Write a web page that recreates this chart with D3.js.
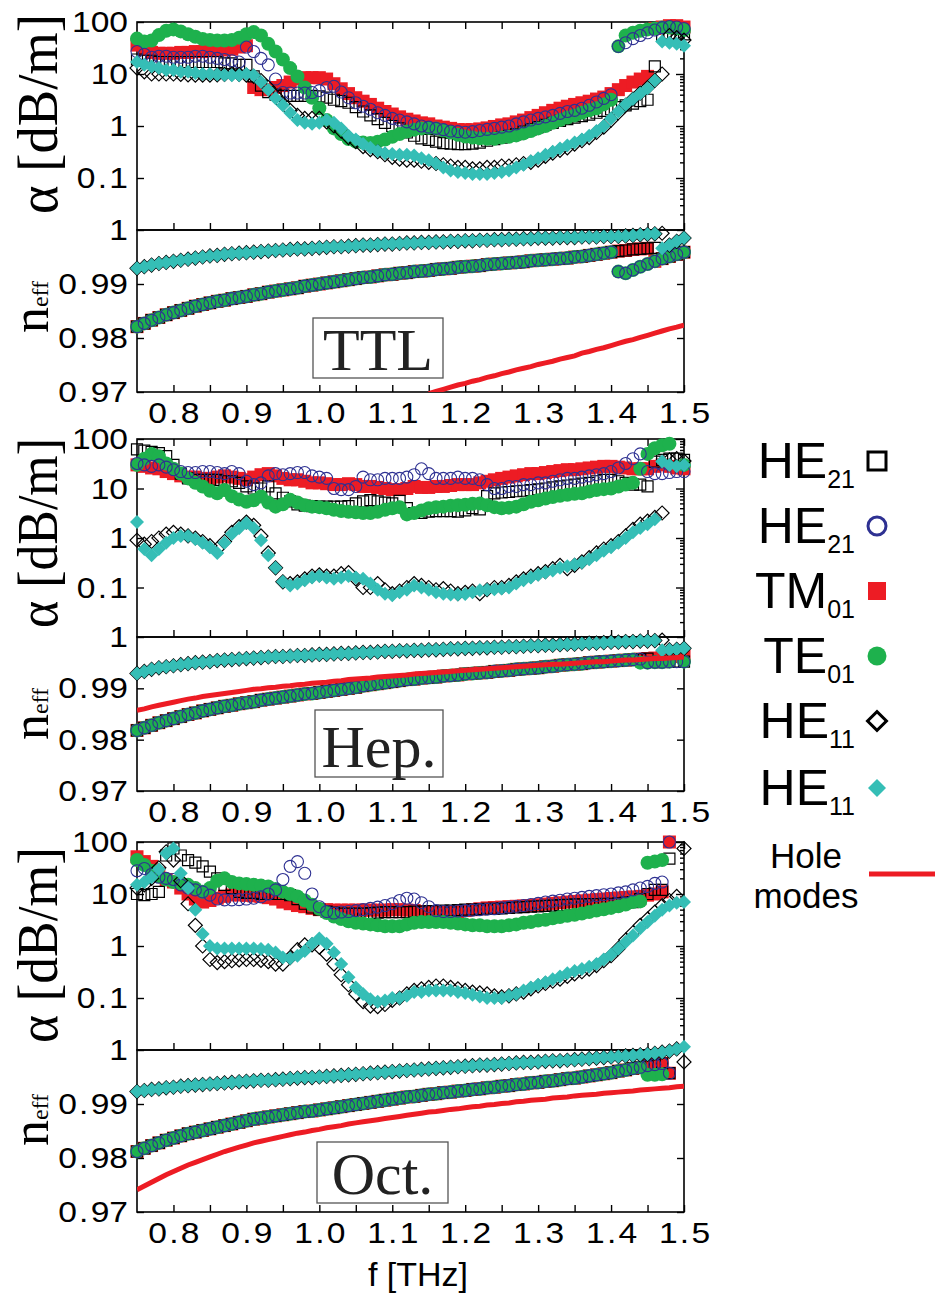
<!DOCTYPE html>
<html>
<head>
<meta charset="utf-8">
<script src="https://cdn.jsdelivr.net/npm/d3@7"></script>
<style>
  body { margin: 0; background: #fff; }
  svg { display: block; }
  text { font-family: "Liberation Sans", Arial, sans-serif; }
  .serif { font-family: "Liberation Serif", "Times New Roman", serif; }
</style>
</head>
<body>
<svg id="chart" width="935" height="1298"></svg>
<script>
// frequency grid of the simulated points [THz]
const freq = [0.75,0.76,0.77,0.78,0.79,0.80,0.81,0.82,0.83,0.84,
  0.85,0.86,0.87,0.88,0.89,0.90,0.91,0.92,0.93,0.94,
  0.95,0.96,0.97,0.98,0.99,1.00,1.01,1.02,1.03,1.04,
  1.05,1.06,1.07,1.08,1.09,1.10,1.11,1.12,1.13,1.14,
  1.15,1.16,1.17,1.18,1.19,1.20,1.21,1.22,1.23,1.24,
  1.25,1.26,1.27,1.28,1.29,1.30,1.31,1.32,1.33,1.34,
  1.35,1.36,1.37,1.38,1.39,1.40,1.41,1.42,1.43,1.44,
  1.45,1.46,1.47,1.48,1.49,1.50];

const fTicks = [0.8,0.85,0.9,0.95,1.0,1.05,1.1,1.15,1.2,1.25,1.3,1.35,1.4,1.45,1.5];
const fLabels = [0.8,0.9,1.0,1.1,1.2,1.3,1.4,1.5];
const alphaTicks = [100, 10, 1, 0.1];
const neffTicks = [0.97, 0.98, 0.99, 1];

// legend order: HE21 (square), HE21 (circle), TM01, TE01, HE11 (open diamond), HE11 (filled diamond)
const modeNames = [["HE","21"],["HE","21"],["TM","01"],["TE","01"],["HE","11"],["HE","11"]];

// ---------- TTL : loss alpha [dB/m] ----------
const ttlAlphaHE21s = [19,18,18,17,17,17,17,17,17,17,
  17,17,16,16,15,15,9,6,4.5,4,
  3.8,3.8,3.8,3.8,3.8,3.7,3.5,3.2,3.0,2.8,
  2.3,1.9,1.6,1.35,1.15,1.0,0.9,0.75,0.65,0.58,
  0.54,0.5,0.47,0.46,0.45,0.45,0.46,0.48,0.52,0.56,
  0.6,0.65,0.7,0.78,0.86,0.95,1.05,1.15,1.25,1.35,
  1.45,1.55,1.65,1.8,1.95,2.1,2.3,2.5,2.7,3.0,
  3.2,14,55,60,60,58];
const ttlAlphaHE21c = [27,24,21,22,22,21,21,21,22,22,
  21,20,19,18,17,33,27,20,15,8,
  4.4,4.3,4.3,4.3,4.4,4.8,5.5,5.8,4.5,3.5,
  2.8,2.4,2.1,1.8,1.6,1.4,1.3,1.2,1.1,1.0,
  0.95,0.9,0.85,0.8,0.78,0.76,0.78,0.82,0.86,0.9,
  0.95,1.0,1.1,1.2,1.3,1.4,1.5,1.6,1.75,1.9,
  2.0,2.2,2.5,2.9,3.4,4.0,34,40,48,55,
  62,70,78,82,80,75];
const ttlAlphaTM01 = [36,30,26,25,25,25,26,26,27,27,
  28,28,29,30,33,35,5.5,5,5,5.5,
  6,7,8,8.5,8.5,8.5,8,6.5,5.2,4.2,
  3.5,3.0,2.6,2.2,1.9,1.7,1.5,1.35,1.25,1.15,
  1.1,1.0,0.95,0.9,0.85,0.85,0.85,0.88,0.92,0.98,
  1.05,1.1,1.2,1.3,1.45,1.6,1.8,2.0,2.2,2.4,
  2.6,2.8,3.0,3.3,3.6,4.2,5,6,7,8,
  9,75,80,85,85,80];
const ttlAlphaTE01 = [48,42,44,56,68,72,66,58,52,47,
  45,44,44,45,50,58,64,55,38,27,
  19,13,9,5.5,3.5,2.2,1.3,0.9,0.7,0.56,
  0.5,0.48,0.47,0.5,0.55,0.62,0.7,0.78,0.85,0.9,
  0.92,0.9,0.82,0.75,0.68,0.63,0.6,0.58,0.57,0.57,
  0.6,0.62,0.66,0.72,0.8,0.9,1.0,1.15,1.3,1.45,
  1.6,1.8,2.0,2.2,2.6,3.2,34,55,62,68,
  72,75,78,78,75,70];
const ttlAlphaHE11d = [13,11,10,10,10,10,9.8,9.6,9.5,9.5,
  9.5,9.6,9.8,10,9.8,9.5,9,7.5,5.5,3.8,
  2.7,2.0,1.6,1.4,1.4,1.4,1.2,1.0,0.8,0.6,
  0.5,0.4,0.35,0.32,0.28,0.25,0.23,0.22,0.22,0.21,
  0.2,0.19,0.18,0.17,0.16,0.16,0.15,0.15,0.16,0.16,
  0.17,0.17,0.18,0.19,0.2,0.22,0.26,0.3,0.34,0.38,
  0.45,0.52,0.6,0.75,0.95,1.3,1.8,2.5,3.3,4.3,
  5.5,7.5,10,55,50,45];
const ttlAlphaHE11t = [17,15,14,13,12,12,11,11,10.5,10,
  10,9.8,9.6,9.5,9.5,10,9.5,7,5,3.4,
  2.5,1.8,1.3,1.15,1.1,1.15,1.3,1.15,0.9,0.65,
  0.55,0.45,0.38,0.33,0.3,0.29,0.28,0.28,0.27,0.24,
  0.22,0.19,0.16,0.14,0.13,0.125,0.12,0.12,0.12,0.125,
  0.13,0.14,0.16,0.18,0.21,0.24,0.28,0.32,0.37,0.42,
  0.48,0.55,0.65,0.8,1.0,1.4,1.9,2.6,3.3,4.2,
  5.3,7.5,42,40,38,35];

// ---------- TTL : effective index ----------
const ttlNeffHigher = [0.9821,0.9827,0.9833,0.9838,0.9843,0.9847,0.9851,0.9855,0.9859,0.9862,
  0.9865,0.9868,0.9870,0.9873,0.9875,0.9877,0.9880,0.9882,0.9885,0.9887,
  0.9889,0.9891,0.9893,0.9896,0.9898,0.9900,0.9902,0.9904,0.9906,0.9908,
  0.9910,0.9912,0.9913,0.9915,0.9917,0.9918,0.9920,0.9921,0.9923,0.9924,
  0.9925,0.9927,0.9928,0.9929,0.9931,0.9932,0.9933,0.9934,0.9936,0.9937,
  0.9938,0.9939,0.9940,0.9941,0.9943,0.9944,0.9945,0.9946,0.9947,0.9948,
  0.9950,0.9951,0.9953,0.9955,0.9957,0.9959,0.9961,0.9962,0.9964,0.9965,
  0.9966,0.9967];
const ttlNeffHigherHi = [0.9923,0.9920,0.9926,0.9932,0.9937,0.9942,0.9947,0.9951,0.9955,0.9959];
const ttlNeffFund = [0.9929,0.9932,0.9935,0.9938,0.9940,0.9942,0.9944,0.9946,0.9948,0.9950,
  0.9952,0.9953,0.9955,0.9956,0.9957,0.9958,0.9959,0.9960,0.9961,0.9962,
  0.9963,0.9964,0.9965,0.9965,0.9966,0.9967,0.9968,0.9969,0.9969,0.9970,
  0.9971,0.9972,0.9972,0.9973,0.9974,0.9974,0.9975,0.9976,0.9976,0.9977,
  0.9977,0.9978,0.9978,0.9979,0.9979,0.9980,0.9980,0.9981,0.9981,0.9982,
  0.9982,0.9983,0.9983,0.9984,0.9984,0.9985,0.9985,0.9985,0.9986,0.9986,
  0.9986,0.9987,0.9987,0.9987,0.9988,0.9988,0.9988,0.9989,0.9990,0.9991,
  0.9992,0.9993,0.9994];
const ttlNeffFundHi = [0.9966,0.9972,0.9979,0.9985];
const ttlHole = [0.9697,0.9701,0.9705,0.9709,0.9713,0.9716,0.9720,0.9723,0.9727,0.9730,
  0.9734,0.9737,0.9741,0.9744,0.9747,0.9751,0.9754,0.9757,0.9761,0.9764,
  0.9767,0.9772,0.9775,0.9779,0.9782,0.9786,0.9790,0.9794,0.9797,0.9801,
  0.9805,0.9809,0.9813,0.9817,0.9820,0.9824];
const ttlSwitch = [1.47, 1.41, 1.46, 1.41, 1.48, 1.47];

// ---------- Hep. : loss alpha [dB/m] ----------
const hepAlphaHE21s = [62,58,55,52,45,30,20,16,15,15,
  15,15,14,14,13,11,10,10,11,8,
  6.5,5.5,4.8,4.5,4.4,4.3,4.3,4.3,4.3,4.4,
  5.0,5.5,5.8,5.5,5.2,5.0,5.6,4.0,3.2,3.2,
  3.4,3.5,3.5,3.5,3.4,3.6,4.0,3.8,7.0,8.0,
  8.3,8.5,8.8,9.0,9.3,9.6,10,10.5,11,11.5,
  12,12.5,13,14,15,15,14,13,12,12,
  11,35,38,40,40,38];
const hepAlphaHE21c = [32,30,28,30,27,24,22,21,21,22,
  22,21,20,22,20,14,12,13,18,20,
  19,20,21,21,18,17,16,10,9.5,9.5,
  11,17,15,15,16,16,16,17,19,25,
  20,16,16,16,17,16,16,15,12,10,
  10,11,11,12,12,13,13,14,15,16,
  16,17,18,19,20,22,26,32,40,50,
  22,20,20,21,22,22];
const hepAlphaTM01 = [30,28,26,25,22,20,18,17,17,16,
  16,17,18,17,16,15,17,19,20,18,
  16,15,15,14,13,13,12.5,12,12,12.5,
  12,11,11,10.5,10,9.5,9.5,10,11,10.5,
  10.5,11,11,11.5,12,12,12,13,14,15,
  16,17,18,19,20,20,21,22,23,24,
  24,25,26,27,28,28,27,26,25,25,
  25,28,30,28,26,25];
const hepAlphaTE01 = [30,40,50,45,32,25,20,16,13,11,
  9,8,9.3,7,6,5.4,5.8,6.9,5.2,4.3,
  4.8,5.9,5.2,4.6,4.3,4.2,4.0,3.7,3.5,3.4,
  3.3,3.2,3.2,3.4,3.7,4.0,4.2,3.0,3.2,3.6,
  4.0,4.2,4.3,4.5,4.6,4.7,4.9,5.0,4.6,4.2,
  4.0,4.1,4.3,4.8,5.4,5.8,6.3,6.7,7.1,7.5,
  7.8,8.0,8.7,9.3,9.7,10,11,12,13,25,
  50,65,75,80,null,30];
const hepAlphaHE11d = [0.9,0.75,0.85,1.0,1.2,1.3,1.2,1.1,1.0,0.85,
  0.7,0.6,0.85,1.3,1.7,2.1,1.8,1.1,0.5,0.25,
  0.13,0.12,0.13,0.15,0.17,0.18,0.17,0.17,0.19,0.2,
  0.15,0.1,0.1,0.12,0.09,0.075,0.085,0.1,0.12,0.11,
  0.1,0.09,0.095,0.085,0.075,0.08,0.085,0.075,0.09,0.1,
  0.1,0.11,0.13,0.15,0.17,0.19,0.21,0.24,0.28,0.24,
  0.28,0.33,0.4,0.5,0.6,0.7,0.85,1.1,1.5,1.9,
  2.2,2.6,3.2,38,40,36];
const hepAlphaHE11t = [2.1,0.6,0.45,0.6,0.8,1.0,1.1,1.1,0.95,0.8,
  0.65,0.5,0.8,1.2,1.6,2.0,1.6,0.9,0.45,0.25,
  0.13,0.11,0.12,0.14,0.16,0.17,0.16,0.15,0.16,0.17,
  0.16,0.15,0.12,0.09,0.075,0.07,0.08,0.09,0.11,0.1,
  0.09,0.08,0.075,0.072,0.072,0.074,0.08,0.088,0.09,0.092,
  0.095,0.1,0.12,0.14,0.16,0.18,0.2,0.22,0.25,0.27,
  0.29,0.32,0.37,0.45,0.55,0.65,0.8,1.0,1.3,1.6,
  1.9,2.4,35,30,28,30];

// ---------- Hep. : effective index ----------
const hepNeffHigher = [0.9818,0.9823,0.9828,0.9833,0.9837,0.9841,0.9845,0.9849,0.9852,0.9856,
  0.9859,0.9862,0.9865,0.9867,0.9870,0.9872,0.9874,0.9877,0.9879,0.9881,
  0.9883,0.9885,0.9887,0.9889,0.9890,0.9892,0.9894,0.9896,0.9898,0.9900,
  0.9902,0.9905,0.9907,0.9909,0.9911,0.9913,0.9915,0.9917,0.9918,0.9920,
  0.9921,0.9922,0.9924,0.9925,0.9926,0.9928,0.9929,0.9930,0.9931,0.9933,
  0.9934,0.9935,0.9937,0.9938,0.9939,0.9940,0.9942,0.9943,0.9945,0.9946,
  0.9947,0.9948,0.9950,0.9951,0.9952,0.9953,0.9954,0.9955,0.9956,0.9957,
  0.9958,0.9959,0.9960,0.9961,0.9962,0.9963];
const hepNeffHigherHi = [0.9950,0.9950,0.9951,0.9951,0.9952,0.9952,0.9952];
const hepNeffFund = [0.9929,0.9933,0.9937,0.9940,0.9942,0.9944,0.9946,0.9948,0.9950,0.9951,
  0.9952,0.9954,0.9955,0.9956,0.9957,0.9958,0.9959,0.9960,0.9961,0.9962,
  0.9962,0.9963,0.9964,0.9964,0.9965,0.9966,0.9966,0.9967,0.9968,0.9968,
  0.9969,0.9970,0.9970,0.9971,0.9972,0.9972,0.9973,0.9973,0.9974,0.9974,
  0.9975,0.9975,0.9976,0.9977,0.9977,0.9978,0.9978,0.9979,0.9979,0.9980,
  0.9980,0.9981,0.9981,0.9982,0.9983,0.9983,0.9984,0.9984,0.9985,0.9986,
  0.9986,0.9987,0.9988,0.9988,0.9989,0.9990,0.9990,0.9991,0.9991,0.9992,
  0.9992,0.9993,0.9994];
const hepNeffFundHi = [0.9974,0.9975,0.9976,0.9978];
const hepHole = [0.9857,0.9860,0.9864,0.9867,0.9870,0.9873,0.9876,0.9879,0.9881,0.9884,
  0.9886,0.9888,0.9890,0.9892,0.9894,0.9896,0.9898,0.9899,0.9901,0.9902,
  0.9904,0.9905,0.9907,0.9908,0.9910,0.9911,0.9912,0.9914,0.9915,0.9917,
  0.9918,0.9919,0.9920,0.9922,0.9923,0.9924,0.9925,0.9926,0.9928,0.9929,
  0.9930,0.9931,0.9932,0.9933,0.9934,0.9935,0.9936,0.9937,0.9938,0.9939,
  0.9940,0.9941,0.9942,0.9943,0.9944,0.9945,0.9946,0.9947,0.9947,0.9948,
  0.9949,0.9950,0.9951,0.9952,0.9952,0.9953,0.9954,0.9955,0.9955,0.9956,
  0.9957,0.9958,0.9958,0.9959,0.9960,0.9961];
const hepSwitch = [1.46, 1.45, null, 1.44, 1.48, 1.47];

// ---------- Oct. : loss alpha [dB/m] ----------
const octAlphaHE21s = [10,9.5,10,11,55,75,55,45,40,34,
  27,20,15,13,11,10.5,10.5,10,10,10,
  10,9.5,8,6.5,5.5,5,4.6,4.4,4.2,4.2,
  4.2,4.2,4.3,4.4,4.5,4.5,4.5,4.5,4.6,4.6,
  4.7,4.7,4.8,4.8,4.9,5.0,5.0,5.1,5.2,5.2,
  5.3,5.4,5.5,5.6,5.7,5.8,5.9,6.0,6.1,6.2,
  6.3,6.3,6.4,6.4,6.5,6.5,6.6,6.8,7,8,
  10,12,12,48,null,null];
const octAlphaHE21c = [28,31,24,21,20,19,15,13,12,11,
  9.5,8,7.7,7.7,7.8,8,8.3,8.8,10,12,
  19,34,42,25,10,5.7,4.6,4.3,4.5,4.6,
  4.8,5.0,5.3,5.6,6.0,6.5,7.5,8.3,8.0,6.8,
  5.7,4.8,4.6,4.6,4.7,4.8,4.9,5.0,5.1,5.2,
  5.4,5.6,5.8,6.0,6.3,6.6,7.0,7.3,7.6,8.0,
  8.3,8.6,9.0,9.3,9.7,10,10.5,11,12,13,
  14,16,17,100,null,null];
const octAlphaTM01 = [52,42,34,25,19,17,13,10,8,7,
  7.5,8.3,9,9.6,9.6,9.4,9.2,9,8.5,8,
  7,6.5,6,5.7,5.3,5,5,4.9,4.9,4.9,
  4.9,4.9,4.9,4.9,4.9,5.0,5.0,4.9,4.8,4.6,
  4.5,4.4,4.4,4.5,4.6,4.8,5.0,5.2,5.4,5.5,
  5.6,5.7,5.8,5.9,6.0,6.2,6.4,6.6,6.8,7.0,
  7.2,7.4,7.6,7.8,8.0,8.2,8.4,8.6,8.8,9,
  9.5,10,11,100,null,null];
const octAlphaTE01 = [45,36,28,22,19,17,16,15,13,11,
  13,18,20,17,16,15.5,15,14.5,14,12.5,
  11,10,9,7.5,6.2,5.2,4.3,3.7,3.3,3.0,
  2.8,2.7,2.6,2.5,2.4,2.4,2.4,2.6,2.8,2.9,
  2.9,2.9,2.9,2.8,2.7,2.6,2.5,2.5,2.4,2.4,
  2.4,2.5,2.6,2.8,2.9,3.1,3.2,3.4,3.6,3.8,
  4.0,4.2,4.5,4.8,5.1,5.4,5.8,6.3,7.0,7.2,
  40,42,45,null,null,null];
const octAlphaHE11d = [13,15,20,32,65,45,18,6.5,2.5,1.0,
  0.55,0.48,0.5,0.52,0.54,0.55,0.55,0.53,0.5,0.45,
  0.45,0.6,0.85,1.05,1.05,0.95,0.7,0.45,0.28,0.18,
  0.12,0.085,0.07,0.068,0.075,0.09,0.1,0.12,0.14,0.15,
  0.16,0.17,0.17,0.16,0.15,0.14,0.13,0.125,0.12,0.11,
  0.105,0.11,0.12,0.13,0.15,0.17,0.19,0.21,0.23,0.26,
  0.29,0.32,0.36,0.42,0.52,0.65,0.9,1.3,1.8,2.5,
  3.3,4.5,6.0,7.5,9,75];
const octAlphaHE11t = [15,17,21,30,60,75,25,13,5,1.7,
  1.0,0.9,0.9,0.9,0.9,0.9,0.9,0.88,0.85,0.75,
  0.6,0.58,0.65,0.8,1.1,1.4,1.1,0.75,0.45,0.25,
  0.16,0.12,0.095,0.085,0.09,0.1,0.1,0.11,0.13,0.13,
  0.14,0.14,0.14,0.14,0.13,0.125,0.115,0.107,0.1,0.1,
  0.1,0.11,0.12,0.14,0.16,0.18,0.2,0.23,0.26,0.3,
  0.33,0.36,0.4,0.45,0.55,0.68,0.9,1.2,1.6,2.2,
  2.9,3.8,5.0,6.0,6.8,7.0];

// ---------- Oct. : effective index ----------
const octNeffHigher = [0.9812,0.9818,0.9823,0.9828,0.9833,0.9837,0.9841,0.9845,0.9848,0.9851,
  0.9854,0.9857,0.9860,0.9863,0.9866,0.9869,0.9872,0.9874,0.9876,0.9878,
  0.9880,0.9882,0.9884,0.9886,0.9887,0.9889,0.9891,0.9893,0.9895,0.9897,
  0.9899,0.9901,0.9903,0.9905,0.9907,0.9909,0.9911,0.9913,0.9914,0.9916,
  0.9918,0.9919,0.9921,0.9922,0.9924,0.9925,0.9927,0.9928,0.9930,0.9931,
  0.9933,0.9934,0.9936,0.9937,0.9939,0.9940,0.9942,0.9943,0.9945,0.9947,
  0.9948,0.9950,0.9952,0.9954,0.9956,0.9958,0.9961,0.9963,0.9966,0.9968,
  0.9971,0.9973,0.9975];
const octNeffHigherHi = [0.9954,0.9954,0.9955,0.9957];
const octNeffFund = [0.9923,0.9925,0.9927,0.9928,0.9930,0.9931,0.9933,0.9934,0.9935,0.9936,
  0.9937,0.9938,0.9939,0.9940,0.9941,0.9942,0.9943,0.9944,0.9944,0.9945,
  0.9946,0.9947,0.9948,0.9949,0.9949,0.9950,0.9951,0.9952,0.9953,0.9954,
  0.9955,0.9956,0.9957,0.9958,0.9959,0.9960,0.9961,0.9962,0.9963,0.9964,
  0.9965,0.9966,0.9967,0.9968,0.9969,0.9970,0.9971,0.9972,0.9972,0.9973,
  0.9974,0.9975,0.9976,0.9977,0.9977,0.9978,0.9979,0.9980,0.9980,0.9981,
  0.9982,0.9983,0.9984,0.9985,0.9986,0.9987,0.9988,0.9989,0.9990,0.9991,
  0.9992,0.9994,0.9996,0.9998,1.0002,1.0006];
const octNeffFundHi = [0.9978];
const octHole = [0.9741,0.9748,0.9755,0.9762,0.9769,0.9775,0.9781,0.9787,0.9792,0.9797,
  0.9802,0.9807,0.9812,0.9816,0.9820,0.9824,0.9828,0.9831,0.9834,0.9837,
  0.9840,0.9843,0.9846,0.9848,0.9851,0.9853,0.9856,0.9858,0.9860,0.9863,
  0.9865,0.9867,0.9869,0.9871,0.9873,0.9875,0.9877,0.9879,0.9881,0.9883,
  0.9885,0.9886,0.9888,0.9890,0.9891,0.9893,0.9895,0.9896,0.9898,0.9899,
  0.9901,0.9902,0.9904,0.9905,0.9907,0.9908,0.9909,0.9911,0.9912,0.9913,
  0.9915,0.9916,0.9917,0.9918,0.9920,0.9921,0.9922,0.9923,0.9924,0.9926,
  0.9927,0.9928,0.9929,0.9930,0.9932,0.9933];
const octSwitch = [1.48, 1.48, 1.48, 1.45, 1.5, null];

const groups = [
  { label: "TTL",
    alpha: [ttlAlphaHE21s, ttlAlphaHE21c, ttlAlphaTM01, ttlAlphaTE01, ttlAlphaHE11d, ttlAlphaHE11t],
    switchAt: ttlSwitch,
    higher: ttlNeffHigher, higherHi: ttlNeffHigherHi, higherHiFrom: 1.41,
    fund: ttlNeffFund, fundHi: ttlNeffFundHi, fundHiFrom: 1.47,
    hole: ttlHole, holeFrom: 1.15 },
  { label: "Hep.",
    alpha: [hepAlphaHE21s, hepAlphaHE21c, hepAlphaTM01, hepAlphaTE01, hepAlphaHE11d, hepAlphaHE11t],
    switchAt: hepSwitch,
    higher: hepNeffHigher, higherHi: hepNeffHigherHi, higherHiFrom: 1.44,
    fund: hepNeffFund, fundHi: hepNeffFundHi, fundHiFrom: 1.47,
    hole: hepHole, holeFrom: 0.75 },
  { label: "Oct.",
    alpha: [octAlphaHE21s, octAlphaHE21c, octAlphaTM01, octAlphaTE01, octAlphaHE11d, octAlphaHE11t],
    switchAt: octSwitch,
    higher: octNeffHigher, higherHi: octNeffHigherHi, higherHiFrom: 1.45,
    fund: octNeffFund, fundHi: octNeffFundHi, fundHiFrom: 1.5,
    hole: octHole, holeFrom: 0.75 }
];

// page layout of the three stacked panel pairs
const frames = [
  { top: 22, mid: 230, bottom: 392, alphaTitleY: 114, alphaLen: 200, neffTitleY: 307, box: [313, 318, 130, 60], boxBase: 370 },
  { top: 439, mid: 637, bottom: 791, alphaTitleY: 533, alphaLen: 190, neffTitleY: 714, box: [315, 710, 128, 67], boxBase: 767 },
  { top: 842, mid: 1050, bottom: 1212, alphaTitleY: 945, alphaLen: 196, neffTitleY: 1120, box: [317, 1142, 131, 61], boxBase: 1194 }
];

const RED = "#ED1C24", GREEN = "#1EB14D", BLUE = "#2E3192", TEAL = "#35BEB6";
const markStyle = [
  { type: d3.symbolSquare, size: 121, fill: "none", stroke: "#000", sw: 1.2 },
  { type: d3.symbolCircle, size: Math.PI * 36, fill: "none", stroke: BLUE, sw: 1.1 },
  { type: d3.symbolSquare, size: 169, fill: RED, stroke: "none" },
  { type: d3.symbolCircle, size: Math.PI * 49, fill: GREEN, stroke: "none" },
  { type: d3.symbolSquare, size: 98, rot: true, fill: "none", stroke: "#000", sw: 1.2 },
  { type: d3.symbolSquare, size: 98, rot: true, fill: TEAL, stroke: "none" }
];
const legendStyle = [
  { type: d3.symbolSquare, size: 324, fill: "none", stroke: "#000", sw: 3 },
  { type: d3.symbolCircle, size: Math.PI * 81, fill: "none", stroke: BLUE, sw: 3 },
  { type: d3.symbolSquare, size: 324, fill: RED, stroke: "none" },
  { type: d3.symbolCircle, size: Math.PI * 90, fill: GREEN, stroke: "none" },
  { type: d3.symbolSquare, size: 180, rot: true, fill: "none", stroke: "#000", sw: 3 },
  { type: d3.symbolSquare, size: 162, rot: true, fill: TEAL, stroke: "none" }
];
const drawOrder = [2, 0, 3, 1, 4, 5];

const svg = d3.select("#chart");
svg.append("rect").attr("width", 935).attr("height", 1298).attr("fill", "#fff");

const x = d3.scaleLinear().domain([0.75, 1.5]).range([137, 684]);

function styleAxis(sel) {
  sel.select(".domain").remove();
  sel.selectAll(".tick line").attr("stroke", "#000").attr("stroke-width", 1.4);
  sel.selectAll(".tick text")
    .attr("font-size", 30)
    .attr("font-family", "'Liberation Sans', Arial, sans-serif")
    .attr("fill", "#000");
}

// the original tick labels use a wide face with a roomy decimal point
function widenLabels(sel) {
  sel.selectAll(".tick text").each(function () {
    const t = d3.select(this);
    const s = t.text();
    t.attr("transform", "scale(1.12,1)");
    const k = s.indexOf(".");
    if (k < 0) return;
    t.text(s.slice(0, k));
    t.append("tspan").attr("dx", 2).text(".");
    t.append("tspan").attr("dx", 2).text(s.slice(k + 1));
  });
}

function drawMarks(layer, pts, y, st) {
  layer.append("g")
    .attr("fill", st.fill)
    .attr("stroke", st.stroke)
    .attr("stroke-width", st.sw || 0)
    .selectAll("path")
    .data(pts)
    .join("path")
    .attr("d", d3.symbol(st.type, st.size))
    .attr("transform", d => `translate(${x(d[0])},${y(d[1])})` + (st.rot ? " rotate(45)" : ""));
}

function neffPoints(grp, m) {
  const fund = m >= 4;
  const core = fund ? grp.fund : grp.higher;
  const hi = fund ? grp.fundHi : grp.higherHi;
  const hiStart = freq.indexOf(fund ? grp.fundHiFrom : grp.higherHiFrom);
  const sw = grp.switchAt[m];
  const alpha = grp.alpha[m];
  const pts = [];
  freq.forEach((f, i) => {
    if (alpha[i] == null) return;
    const v = (sw == null || f < sw) ? core[i] : hi[i - hiStart];
    if (v != null) pts.push([f, v]);
  });
  return pts;
}

groups.forEach((grp, gi) => {
  const L = frames[gi];
  const yA = d3.scaleLog().domain([0.01, 100]).range([L.mid, L.top]);
  const yN = d3.scaleLinear().domain([0.97, 1]).range([L.bottom, L.mid]);
  const g = svg.append("g");

  svg.append("clipPath").attr("id", "neffClip" + gi)
    .append("rect").attr("x", 137).attr("y", L.mid).attr("width", 547).attr("height", L.bottom - L.mid);

  // frequency ticks (inward) on every horizontal edge
  g.append("g").attr("transform", `translate(0,${L.top})`)
    .call(d3.axisBottom(x).tickValues(fTicks).tickSize(7).tickFormat(""))
    .call(styleAxis);
  g.append("g").attr("transform", `translate(0,${L.mid})`)
    .call(d3.axisTop(x).tickValues(fTicks).tickSize(7).tickFormat(""))
    .call(styleAxis);
  g.append("g").attr("transform", `translate(0,${L.bottom})`)
    .call(d3.axisBottom(x).tickValues(fTicks).tickSizeInner(-7).tickSizeOuter(0).tickPadding(10)
      .tickFormat(d => fLabels.includes(d) ? d3.format(".1f")(d) : ""))
    .call(styleAxis).call(widenLabels);

  // alpha axis
  g.append("g").attr("transform", "translate(137,0)")
    .call(d3.axisLeft(yA).tickValues(alphaTicks).tickSizeInner(-7).tickSizeOuter(0).tickPadding(8)
      .tickFormat(d => String(d)))
    .call(styleAxis).call(widenLabels);
  g.append("g").attr("transform", "translate(684,0)")
    .call(d3.axisRight(yA).tickValues(alphaTicks).tickSizeInner(-8).tickSizeOuter(0).tickFormat(""))
    .call(styleAxis);
  const minor = yA.ticks().filter(d => Math.abs(Math.log10(d) - Math.round(Math.log10(d))) > 1e-6);
  g.append("g").attr("transform", "translate(684,0)")
    .call(d3.axisRight(yA).tickValues(minor).tickSizeInner(-4).tickSizeOuter(0).tickFormat(""))
    .call(styleAxis);

  // n_eff axis
  g.append("g").attr("transform", "translate(137,0)")
    .call(d3.axisLeft(yN).tickValues(neffTicks).tickSizeInner(-7).tickSizeOuter(0).tickPadding(8)
      .tickFormat(d => d === 1 ? "1" : d3.format(".2f")(d)))
    .call(styleAxis).call(widenLabels);
  g.append("g").attr("transform", "translate(684,0)")
    .call(d3.axisRight(yN).tickValues(neffTicks).tickSizeInner(-7).tickSizeOuter(0).tickFormat(""))
    .call(styleAxis);

  // frames
  g.append("rect").attr("x", 137).attr("y", L.top).attr("width", 547).attr("height", L.mid - L.top)
    .attr("fill", "none").attr("stroke", "#000").attr("stroke-width", 1.6);
  g.append("rect").attr("x", 137).attr("y", L.mid).attr("width", 547).attr("height", L.bottom - L.mid)
    .attr("fill", "none").attr("stroke", "#000").attr("stroke-width", 1.6);

  // axis titles
  g.append("text").attr("class", "serif")
    .attr("transform", `translate(57,${L.alphaTitleY}) rotate(-90)`)
    .attr("text-anchor", "middle").attr("font-size", 58)
    .attr("textLength", L.alphaLen).attr("lengthAdjust", "spacingAndGlyphs")
    .text("α [dB/m]");
  const nt = g.append("text").attr("class", "serif")
    .attr("transform", `translate(48,${L.neffTitleY}) rotate(-90)`)
    .attr("text-anchor", "middle");
  nt.append("tspan").attr("font-size", 52).text("n");
  nt.append("tspan").attr("font-size", 24).text("eff");

  // structure label
  const [bx, by, bw, bh] = L.box;
  g.append("rect").attr("x", bx).attr("y", by).attr("width", bw).attr("height", bh)
    .attr("fill", "none").attr("stroke", "#555").attr("stroke-width", 1.3);
  g.append("text").attr("class", "serif")
    .attr("x", bx + bw / 2).attr("y", L.boxBase)
    .attr("text-anchor", "middle").attr("font-size", 60).attr("fill", "#222")
    .text(grp.label);

  // markers
  const marks = svg.append("g");
  drawOrder.forEach(m => {
    const pts = freq.map((f, i) => [f, grp.alpha[m][i]]).filter(d => d[1] != null);
    drawMarks(marks, pts, yA, markStyle[m]);
  });
  drawOrder.forEach(m => drawMarks(marks, neffPoints(grp, m), yN, markStyle[m]));

  // hole mode
  const h0 = freq.indexOf(grp.holeFrom);
  const holePts = grp.hole.map((v, j) => [freq[h0 + j], v]);
  marks.append("path").datum(holePts)
    .attr("clip-path", `url(#neffClip${gi})`)
    .attr("fill", "none").attr("stroke", RED).attr("stroke-width", 5)
    .attr("d", d3.line().x(d => x(d[0])).y(d => yN(d[1])));
});

// x-axis title
svg.append("text").attr("x", 418).attr("y", 1286).attr("text-anchor", "middle")
  .attr("font-size", 34).text("f [THz]");

// legend
const legendBase = [478, 543, 608, 673, 738, 805];
const legend = svg.append("g");
modeNames.forEach((nm, m) => {
  const t = legend.append("text").attr("x", 855).attr("y", legendBase[m])
    .attr("text-anchor", "end").attr("font-size", 50);
  t.append("tspan").text(nm[0]);
  t.append("tspan").attr("font-size", 25).attr("dy", 10).text(nm[1]);
  const st = legendStyle[m];
  legend.append("path")
    .attr("d", d3.symbol(st.type, st.size)())
    .attr("transform", `translate(877,${legendBase[m] - 17})` + (st.rot ? " rotate(45)" : ""))
    .attr("fill", st.fill).attr("stroke", st.stroke).attr("stroke-width", st.sw || 0);
});
legend.append("text").attr("x", 806).attr("y", 868).attr("text-anchor", "middle")
  .attr("font-size", 35).text("Hole");
legend.append("text").attr("x", 806).attr("y", 908).attr("text-anchor", "middle")
  .attr("font-size", 35).text("modes");
legend.append("line").attr("x1", 869).attr("x2", 935).attr("y1", 874).attr("y2", 874)
  .attr("stroke", RED).attr("stroke-width", 5);
</script>
</body>
</html>
